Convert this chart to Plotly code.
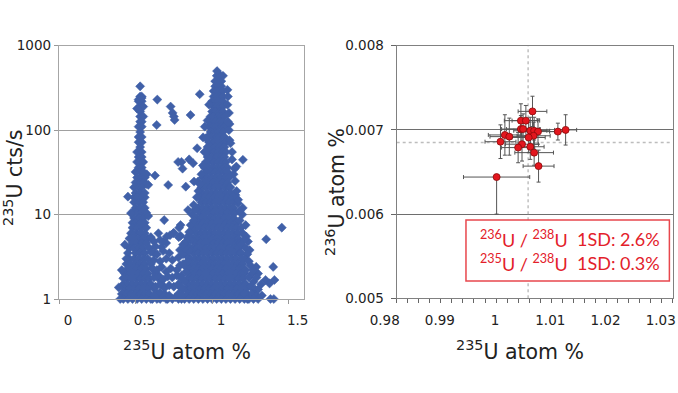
import plotly.graph_objects as go

# ---------------- Left panel: 235U atom % vs 235U cts/s ----------------
# Dense main population (~1 atom %): rows of count rate, x in hundredths of atom %
MAIN_ROW_CPS = [440, 380, 330, 290, 250, 220, 190, 166, 145, 126, 110, 95, 83, 72, 63,
                55, 48, 42, 36, 32, 27.5, 24, 21, 18, 16, 14, 12, 10.5, 9.1, 8, 7, 6,
                5.2, 4.6, 4, 3.5, 3, 2.6, 2.3, 2, 1.75, 1.5, 1.32, 1.15, 1]
MAIN_ROW_X = [
    [103, 105], [102, 104, 106], [102, 104, 106], [101, 103, 105, 107], [101, 103, 105, 107],
    [100, 102, 104, 107], [101, 103, 105, 107], [100, 102, 105, 107], [99, 101, 104, 106, 108],
    [100, 102, 105, 107], [98, 101, 103, 106, 108], [99, 102, 104, 107], [97, 100, 103, 105, 108],
    [98, 101, 104, 106, 109], [97, 99, 102, 105, 108], [96, 98, 101, 104, 107, 109],
    [97, 100, 103, 106, 108], [96, 98, 101, 104, 107, 109], [95, 97, 100, 103, 106, 108, 110],
    [96, 99, 102, 105, 108, 110], [94, 97, 100, 103, 106, 109, 111], [95, 98, 101, 104, 107, 110],
    [93, 96, 99, 102, 105, 108, 111, 112], [94, 97, 100, 103, 106, 109, 112],
    [92, 95, 98, 101, 104, 107, 110, 113], [93, 96, 99, 102, 105, 108, 111, 114],
    [91, 94, 97, 100, 103, 106, 109, 112, 114], [92, 95, 98, 101, 104, 107, 110, 113, 115],
    [90, 93, 96, 99, 102, 105, 108, 111, 114], [91, 94, 97, 100, 103, 106, 109, 112, 115, 116],
    [89, 92, 95, 98, 101, 104, 107, 110, 113, 116], [90, 93, 96, 99, 102, 105, 108, 111, 114, 117],
    [88, 91, 94, 97, 100, 103, 106, 109, 112, 115, 117], [89, 92, 95, 98, 101, 104, 107, 110, 113, 116, 118],
    [87, 90, 93, 96, 99, 102, 105, 108, 111, 114, 117], [88, 91, 94, 97, 100, 103, 106, 109, 112, 115, 118, 119],
    [86, 89, 92, 95, 98, 101, 104, 107, 110, 113, 116, 119], [87, 90, 93, 96, 99, 102, 105, 108, 111, 114, 117, 120],
    [85, 88, 91, 94, 97, 100, 103, 106, 109, 112, 115, 118, 120],
    [86, 89, 92, 95, 98, 101, 104, 107, 110, 113, 116, 119, 121],
    [84, 87, 90, 93, 96, 99, 102, 105, 108, 111, 114, 117, 120],
    [85, 88, 91, 94, 97, 100, 103, 106, 109, 112, 115, 118, 121, 122],
    [83, 86, 89, 92, 95, 98, 101, 104, 107, 110, 113, 116, 119, 122],
    [84, 87, 90, 93, 96, 99, 102, 105, 108, 111, 114, 117, 120, 123],
    [82, 85, 88, 91, 94, 97, 100, 103, 106, 109, 112, 115, 118, 121, 124],
]

# Second population (~0.5 atom %)
LOW_ROW_CPS = [330, 250, 220, 190, 166, 145, 126, 110, 95, 83, 72, 63, 55, 48, 42, 36, 32,
               27.5, 24, 21, 18, 16, 14, 12, 10.5, 9.1, 8, 7, 6, 5.2, 4.6, 4, 3.5, 3, 2.6,
               2.3, 2, 1.75, 1.5, 1.32, 1.15, 1]
LOW_ROW_X = [
    [53], [53, 54], [52, 54], [53, 55], [53], [53, 55], [53, 54], [52, 54], [53], [52, 54],
    [52, 54], [53], [51, 54], [52, 54], [51, 53, 55], [52, 54], [50, 53, 55], [51, 54, 56],
    [50, 53, 55], [49, 52, 54], [50, 53, 56], [49, 51, 54, 56], [49, 52, 55], [50, 53, 56],
    [48, 51, 54, 57], [49, 52, 55], [48, 50, 53, 56], [48, 51, 54, 57],
    [47, 50, 53, 56], [46, 49, 52, 55, 58], [48, 51, 54, 57], [46, 49, 52, 55, 59],
    [45, 50, 53, 56, 62], [46, 49, 52, 55, 58], [44, 47, 50, 53, 56, 60],
    [45, 48, 51, 54, 57, 61], [43, 46, 49, 52, 55, 58, 63], [44, 47, 50, 53, 56, 59, 65],
    [42, 45, 48, 51, 54, 57, 60, 67], [43, 46, 49, 52, 55, 58, 62], [41, 44, 47, 50, 53, 56, 59, 64, 69],
    [42, 45, 48, 51, 54, 57, 61, 66, 71],
]

# Scattered points (atom %, cts/s)
SCAT_X = [0.642, 0.638, 0.729, 0.742, 0.75, 0.755, 0.859, 0.919, 0.952, 0.941, 0.902, 0.627, 0.778,
          0.80, 0.807, 0.85, 0.876, 0.713, 0.828, 0.882, 0.908, 0.687, 0.843, 0.794, 0.785, 0.746,
          0.794, 1.201, 1.147, 1.158, 1.114, 1.103, 1.114, 1.103, 1.071, 1.05, 1.032, 1.153, 1.169,
          1.197, 1.219, 1.455, 1.353, 1.223, 1.234, 1.245, 1.288, 1.30, 1.399, 1.407, 1.349, 1.375,
          1.381, 1.403, 1.325,
          # right edge of main population
          1.10, 1.10, 1.11, 1.11, 1.12, 1.13, 1.13, 1.14, 1.15, 1.16, 1.17, 1.20, 1.18, 1.18, 1.19,
          1.20, 1.21, 1.19, 1.22, 1.23, 1.21, 1.24, 1.25, 1.22, 1.26, 1.24, 1.27, 1.25, 1.28, 1.26,
          1.29, 1.30, 1.30, 1.27, 1.21, 1.23, 1.32, 1.29, 1.27,
          # left edge of main population
          0.80, 0.81, 0.82, 0.80, 0.83, 0.82, 0.84, 0.83, 0.85, 0.84, 0.86, 0.85, 0.87, 0.86, 0.88,
          0.87, 0.89, 0.88, 0.90, 0.91, 0.92, 0.93, 0.94, 0.95, 0.96, 0.97, 0.98, 0.78, 0.79,
          # between the two populations
          0.60, 0.62, 0.64, 0.66, 0.68, 0.70, 0.72, 0.74, 0.76, 0.78, 0.80, 0.63, 0.66, 0.69, 0.72,
          0.75, 0.78, 0.80, 0.62, 0.65, 0.68, 0.71, 0.74, 0.77, 0.80, 0.61, 0.64, 0.67, 0.70, 0.73,
          0.77, 0.79, 0.81, 0.62, 0.66, 0.70, 0.74, 0.78, 0.81, 0.60, 0.64, 0.68, 0.72, 0.79, 0.82,
          0.63, 0.67, 0.70, 0.81, 0.83, 0.66, 0.62, 0.60, 0.84, 0.85, 0.649, 0.681, 0.703, 0.725,
          0.75, 0.782,
          # edges of the 0.5 % population
          0.45, 0.57, 0.573, 0.583, 0.47, 0.583, 0.43, 0.39, 0.42, 0.44, 0.41, 0.40, 0.52, 0.54,
          0.51]
SCAT_Y = [230, 115, 190, 160, 145, 132, 151, 266, 110, 82, 61, 29, 42,
          42, 35, 45, 40.5, 22.4, 21.4, 24.6, 24.6, 8.6, 11.3, 7.5, 7.0, 6.0,
          5.6, 44.5, 35, 37, 76, 126, 118, 250, 440, 450, 500, 17, 13.6,
          10, 7.5, 7.0, 5.1, 5.5, 4.8, 3.8, 2.4, 2.0, 2.4, 1.68, 1.68, 1.53,
          1.0, 1.0, 1.1,
          300, 200, 160, 100, 70, 55, 45, 30, 25, 19, 15, 12, 11, 8.5, 7,
          6, 5, 4.4, 4, 3.4, 3, 2.8, 2.5, 2.2, 2.0, 1.8, 1.6, 1.4, 1.3, 1.15,
          1.1, 1.3, 1.0, 1.0, 1.15, 1.0, 1.5, 1.8, 2.2,
          1.1, 1.3, 1.6, 1.9, 2.1, 2.5, 2.8, 3.3, 3.7, 4.3, 5, 5.7, 6.5, 7.5, 8.5,
          10, 11.5, 13, 16, 19, 23, 30, 38, 55, 80, 130, 200, 1.0, 1.4,
          1.0, 1.1, 1.0, 1.2, 1.05, 1.0, 1.1, 1.0, 1.05, 1.15, 1.0, 1.4, 1.5, 1.35, 1.45,
          1.4, 1.5, 1.35, 1.8, 1.9, 1.7, 1.85, 1.8, 1.9, 1.75, 2.3, 2.2, 2.4, 2.1, 2.3,
          2.2, 2.5, 2.6, 2.9, 2.8, 3.0, 2.9, 3.1, 3.4, 3.6, 3.4, 3.7, 3.5, 3.8, 4.0,
          4.2, 4.1, 4.6, 4.4, 4.8, 5.0, 4.8, 5.4, 5.3, 6.2, 6.0, 4.8, 5.5, 5.7,
          6.1, 5.4,
          16.3, 23, 30, 22.5, 10.4, 9.6, 4.4, 1.37, 1.76, 3.0, 2.2, 1.0, 230, 240,
          180]

# ---------------- Right panel: 235U atom % vs 236U atom % ----------------
R_X = [1.0046, 1.0025, 1.0034, 1.0025, 1.0029, 1.0042, 1.0049, 1.0056, 1.0092, 1.0106, 0.9996,
       1.0004, 1.0048, 1.0039, 0.9988, 1.0027, 1.0020, 1.0042, 1.0049, 1.0057, 0.9981]
R_Y = [0.00722, 0.00711, 0.00711, 0.00701, 0.00701, 0.00699, 0.00699, 0.00698, 0.00698, 0.00700,
       0.00694, 0.00692, 0.00693, 0.00691, 0.00686, 0.00683, 0.00679, 0.00680, 0.00673, 0.00657,
       0.00644]
R_EX = [0.0026, 0.0030, 0.0025, 0.0035, 0.0030, 0.0030, 0.0028, 0.0030, 0.0015, 0.0020, 0.0030,
        0.0035, 0.0030, 0.0030, 0.0028, 0.0030, 0.0030, 0.0025, 0.0035, 0.0028, 0.0060]
R_EY_PLUS = [0.00018, 0.00020, 0.00018, 0.00016, 0.00018, 0.00016, 0.00016, 0.00015, 0.00010,
             0.00018, 0.00024, 0.00022, 0.00016, 0.00018, 0.00020, 0.00020, 0.00018, 0.00015,
             0.00015, 0.00019, 0.0]
R_EY_MINUS = [0.00018, 0.00020, 0.00018, 0.00016, 0.00018, 0.00016, 0.00016, 0.00015, 0.00010,
              0.00018, 0.00024, 0.00022, 0.00016, 0.00018, 0.00020, 0.00020, 0.00018, 0.00015,
              0.00015, 0.00019, 0.00044]
REF_X = 1.0038
REF_Y = 0.00685

LEFT_XTICKS = [0, 0.5, 1, 1.5]
LEFT_XLABELS = ["0", "0.5", "1", "1.5"]
LEFT_YTICKS = [1, 10, 100, 1000]
LEFT_YLABELS = ["1", "10", "100", "1000"]
RIGHT_XTICKS = [0.98, 0.99, 1.0, 1.01, 1.02, 1.03]
RIGHT_XLABELS = ["0.98", "0.99", "1", "1.01", "1.02", "1.03"]
RIGHT_YTICKS = [0.005, 0.006, 0.007, 0.008]
RIGHT_YLABELS = ["0.005", "0.006", "0.007", "0.008"]
SD_LINES = [("<sup>236</sup>U / <sup>238</sup>U", "1SD: 2.6%"),
            ("<sup>235</sup>U / <sup>238</sup>U", "1SD: 0.3%")]

# ---------------- build ----------------
lx, ly = [], []
for c, xs in zip(MAIN_ROW_CPS, MAIN_ROW_X):
    for xv in xs:
        lx.append(xv / 100)
        ly.append(c)
for c, xs in zip(LOW_ROW_CPS, LOW_ROW_X):
    for xv in xs:
        lx.append(xv / 100)
        ly.append(c)
lx += SCAT_X
ly += SCAT_Y

BLUE = "#4060a8"
RED = "#e3161e"
TXT = "#222222"
FONT = "DejaVu Sans"

fig = go.Figure()
fig.add_trace(go.Scatter(
    x=lx, y=ly, mode="markers", xaxis="x", yaxis="y", cliponaxis=False,
    marker=dict(symbol="diamond", size=7, color=BLUE, line=dict(width=0.5, color=BLUE)),
    showlegend=False, hoverinfo="skip"))

# reference lines on the right panel
fig.add_trace(go.Scatter(x=[REF_X, REF_X], y=[0.005, 0.008], mode="lines", xaxis="x2", yaxis="y2",
                         line=dict(color="#a0a0a0", width=1, dash="dot"), showlegend=False,
                         hoverinfo="skip"))
fig.add_trace(go.Scatter(x=[0.98, 1.03], y=[REF_Y, REF_Y], mode="lines", xaxis="x2", yaxis="y2",
                         line=dict(color="#bdbdbd", width=1.5, dash="dot"), showlegend=False,
                         hoverinfo="skip"))
fig.add_trace(go.Scatter(
    x=R_X, y=R_Y, mode="markers", xaxis="x2", yaxis="y2",
    marker=dict(symbol="circle", size=7, color=RED, line=dict(width=0.8, color="#8a0a0a")),
    error_x=dict(type="data", array=R_EX, color="#555555", thickness=1, width=2),
    error_y=dict(type="data", symmetric=False, array=R_EY_PLUS, arrayminus=R_EY_MINUS,
                 color="#555555", thickness=1, width=2),
    showlegend=False, hoverinfo="skip"))

ytop = 1 - 45.7 / 393
common_tick = dict(family=FONT, size=13.5, color=TXT)

fig.update_layout(
    width=678, height=393, margin=dict(l=0, r=0, t=0, b=0, autoexpand=False),
    paper_bgcolor="white", plot_bgcolor="white", showlegend=False,
    xaxis=dict(domain=[59 / 678, 304 / 678], range=[0, 1.6], tickmode="array",
               tickvals=LEFT_XTICKS, ticktext=LEFT_XLABELS, ticks="outside", ticklen=4,
               tickcolor="#999", showline=True, linecolor="#a6a6a6", linewidth=1.3, mirror=True,
               showgrid=False, zeroline=False, tickfont=common_tick, ticklabelshift=9,
               ticklabelstandoff=5, automargin=False, anchor="y"),
    yaxis=dict(domain=[1 - 299 / 393, ytop], type="log", range=[0, 3], tickmode="array",
               tickvals=LEFT_YTICKS, ticktext=LEFT_YLABELS, ticks="outside", ticklen=4,
               tickcolor="#999", showline=True, linecolor="#a6a6a6", linewidth=1.3, mirror=True,
               showgrid=True, gridcolor="#a0a0a0", gridwidth=1.2, zeroline=False,
               tickfont=common_tick, automargin=False, anchor="x"),
    xaxis2=dict(domain=[396.7 / 678, 672.7 / 678], range=[0.98, 1.03], tickmode="array",
                tickvals=RIGHT_XTICKS, ticktext=RIGHT_XLABELS, ticks="outside", ticklen=4,
                tickcolor="#666",
                minor=dict(tickmode="linear", tick0=0.98, dtick=0.002, ticks="outside",
                           ticklen=4, tickcolor="#666", showgrid=False),
                showline=True, linecolor="#808080", linewidth=1.3, mirror=True, showgrid=False,
                zeroline=False, tickfont=common_tick, ticklabelshift=-12, ticklabelstandoff=5,
                automargin=False, anchor="y2"),
    yaxis2=dict(domain=[1 - 298.3 / 393, ytop], range=[0.005, 0.008], tickmode="array",
                tickvals=RIGHT_YTICKS, ticktext=RIGHT_YLABELS, ticks="outside", ticklen=5,
                tickcolor="#666", showline=True, linecolor="#808080", linewidth=1.3, mirror=True,
                showgrid=True, gridcolor="#6e6e6e", gridwidth=1.4, zeroline=False,
                tickfont=common_tick, ticklabelstandoff=4, automargin=False, anchor="x2"),
)

title_font = dict(family=FONT, size=20.5, color=TXT)
ann = [
    dict(text="<sup>235</sup>U atom %", x=187 / 678, y=1 - 350 / 393),
    dict(text="<sup>235</sup>U atom %", x=520 / 678, y=1 - 350 / 393),
    dict(text="<sup>235</sup>U cts/s", x=14 / 678, y=1 - 178 / 393, textangle=-90),
    dict(text="<sup>236</sup>U atom %", x=336 / 678, y=1 - 192 / 393, textangle=-90),
]
for a in ann:
    fig.add_annotation(xref="paper", yref="paper", xanchor="center", yanchor="middle",
                       showarrow=False, font=title_font, **a)

# 1SD box
fig.add_shape(type="rect", xref="x2 domain", yref="y2 domain", x0=0.251, x1=0.988, y0=0.0685,
              y1=0.31, line=dict(color="#e8474d", width=1.5), fillcolor="white", layer="above")
box_font = dict(family="Lato", size=18, color="#e3202a")
for (lab, sd), yy in zip(SD_LINES, [0.2348, 0.1397]):
    fig.add_annotation(xref="x2 domain", yref="y2 domain", x=0.2946, y=yy, xanchor="left",
                       yanchor="middle", text=lab, showarrow=False, font=box_font)
    fig.add_annotation(xref="x2 domain", yref="y2 domain", x=0.961, y=yy, xanchor="right",
                       yanchor="middle", text=sd, showarrow=False, font=box_font)

fig.write_html("out.html", config={"displayModeBar": False},
               post_script="document.body.style.margin='0';document.body.style.overflow='hidden';")
